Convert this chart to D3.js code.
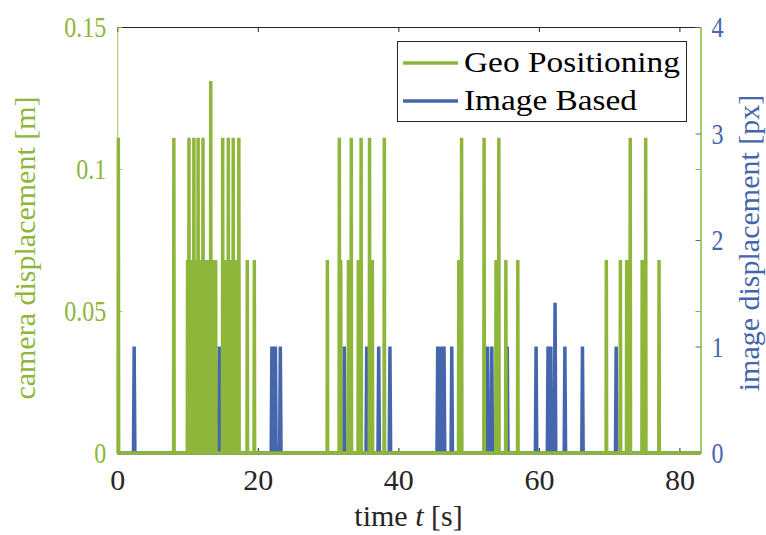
<!DOCTYPE html>
<html>
<head>
<meta charset="utf-8">
<script src="https://cdn.jsdelivr.net/npm/d3@7"></script>
<style>
  body { margin: 0; background: #fff; }
  svg text { font-family: "Liberation Serif", "DejaVu Serif", "Noto Serif", "FreeSerif", "Nimbus Roman", Times, serif !important; }
</style>
</head>
<body>
<svg id="chart"></svg>
<script>

// Geo positioning spikes: time [s] and camera displacement [m]
const geoTimes = [0.15, 8.05,
    10.0, 10.2, 10.35, 10.5, 10.65, 10.9, 11.05, 11.2, 11.35, 11.5, 11.65, 11.8, 11.95,
    12.2, 12.35, 12.5, 12.65, 12.8, 12.95, 13.1, 13.3, 13.5, 13.65,
    14.0, 15.0, 15.5, 15.8, 16.2, 16.5, 16.9, 17.3, 18.5, 19.5,
    29.9, 31.6, 31.8, 32.9, 33.3, 34.3, 34.7, 35.9, 36.3, 38.0,
    48.6, 49.0, 52.2, 53.9, 54.3, 55.3, 57.0,
    69.6, 71.6, 72.5, 73.0, 74.7, 75.2, 77.1];
const geoValues = [0.111, 0.111,
    0.068, 0.111, 0.068, 0.068, 0.068, 0.111, 0.068, 0.068, 0.068, 0.111, 0.068, 0.068, 0.068,
    0.111, 0.068, 0.068, 0.068, 0.068, 0.068, 0.068, 0.131, 0.068, 0.068,
    0.068, 0.111, 0.068, 0.111, 0.068, 0.111, 0.068, 0.111, 0.068, 0.068,
    0.068, 0.111, 0.068, 0.068, 0.111, 0.068, 0.111, 0.111, 0.068, 0.111,
    0.068, 0.111, 0.111, 0.068, 0.111, 0.068, 0.068,
    0.068, 0.068, 0.068, 0.111, 0.068, 0.111, 0.068];

// Image based spikes: time [s] and image displacement [px]
const imgTimes = [2.4, 14.5, 15.2, 22.0, 22.5, 23.2, 32.3, 35.5, 37.2, 38.8,
    45.6, 46.1, 46.5, 47.6, 52.7, 53.3, 55.5, 59.6, 61.3, 61.7, 62.3, 63.7, 66.2, 71.0];
const imgValues = [1, 1, 1, 1, 1, 1, 1, 1, 1, 1,
    1, 1, 1, 1, 1, 1, 1, 1, 1, 1, 1.41, 1, 1, 1];

const xTicks = [0, 20, 40, 60, 80];
const leftTicks = [0, 0.05, 0.1, 0.15];
const leftTickLabels = ["0", "0.05", "0.1", "0.15"];
const rightTicks = [0, 1, 2, 3, 4];
const seriesNames = ["Geo Positioning", "Image Based"];

const green = "#8db63b";
const blue = "#4565ad";
const dark = "#262626";
const serif = "'Liberation Serif', 'DejaVu Serif', 'Noto Serif', serif";

const W = 766, H = 535;
const plotL = 117.3, plotR = 700.5, plotT = 27, plotB = 453;

const svg = d3.select("#chart").attr("width", W).attr("height", H)
    .attr("font-family", serif);

const x = d3.scaleLinear().domain([0, 83]).range([plotL, plotR]);
const yL = d3.scaleLinear().domain([0, 0.15]).range([plotB, plotT]);
const yR = d3.scaleLinear().domain([0, 4]).range([plotB, plotT]);

// turn spike lists into a signal that sits at zero between events
function spikes(times, values, dt) {
    const pts = [[0, 0]];
    times.forEach((t, i) => {
        pts.push([t - dt, 0], [t, values[i]], [t + dt, 0]);
    });
    pts.push([83, 0]);
    return pts;
}

// top and bottom frame with inward x ticks
svg.append("g")
    .attr("transform", "translate(0," + plotT + ")")
    .call(d3.axisTop(x).tickValues(xTicks).tickSizeInner(-5).tickSizeOuter(0).tickFormat(""))
    .call(g => g.selectAll("line,path").attr("stroke", dark));

const xAxis = svg.append("g")
    .attr("transform", "translate(0," + plotB + ")")
    .call(d3.axisBottom(x).tickValues(xTicks).tickSizeInner(-5).tickSizeOuter(0).tickFormat(d3.format("d")));
xAxis.attr("font-family", serif);
xAxis.selectAll("line,path").attr("stroke", dark);
xAxis.selectAll("text")
    .attr("y", 37).attr("dy", null)
    .attr("fill", dark).attr("font-size", 30);

// left axis (green)
const yAxisL = svg.append("g")
    .attr("transform", "translate(" + plotL + ",0)")
    .call(d3.axisLeft(yL).tickValues(leftTicks).tickSizeInner(-5).tickSizeOuter(0)
        .tickFormat((d, i) => leftTickLabels[i]));
yAxisL.attr("font-family", serif);
yAxisL.selectAll("line,path").attr("stroke", green).attr("stroke-opacity", 0.8);
yAxisL.selectAll("text")
    .attr("x", -11 / 0.8).attr("transform", "scale(0.8,1)")
    .attr("fill", green).attr("font-size", 30);

// mirrored green ticks on the right edge
svg.append("g")
    .attr("transform", "translate(" + plotR + ",0)")
    .call(d3.axisRight(yL).tickValues(leftTicks).tickSizeInner(-5).tickSizeOuter(0).tickFormat(""))
    .call(g => g.selectAll("line,path").attr("stroke", green));

// right axis (blue)
const yAxisR = svg.append("g")
    .attr("transform", "translate(" + plotR + ",0)")
    .call(d3.axisRight(yR).tickValues(rightTicks).tickSizeInner(-5).tickSizeOuter(0).tickFormat(d3.format("d")));
yAxisR.attr("font-family", serif);
yAxisR.select("path").attr("stroke", green);
yAxisR.selectAll("line").attr("stroke", blue);
yAxisR.selectAll("text")
    .attr("x", 11 / 0.8).attr("transform", "scale(0.8,1)")
    .attr("fill", blue).attr("font-size", 30);

// data lines
const lineL = d3.line().x(d => x(d[0])).y(d => yL(d[1]));
const lineR = d3.line().x(d => x(d[0])).y(d => yR(d[1]));

svg.append("path")
    .datum(spikes(imgTimes, imgValues, 0.1))
    .attr("fill", "none")
    .attr("stroke", blue)
    .attr("stroke-width", 3.5)
    .attr("stroke-linejoin", "bevel")
    .attr("d", lineR);

svg.append("path")
    .datum(spikes(geoTimes, geoValues, 0.04))
    .attr("fill", "none")
    .attr("stroke", green)
    .attr("stroke-width", 3.5)
    .attr("stroke-linejoin", "bevel")
    .attr("d", lineL);

// axis titles
svg.append("text")
    .attr("transform", "translate(35,248) rotate(-90)")
    .attr("text-anchor", "middle")
    .attr("fill", green).attr("font-size", 30)
    .text("camera displacement [m]");

svg.append("text")
    .attr("transform", "translate(759,243) rotate(-90)")
    .attr("text-anchor", "middle")
    .attr("fill", blue).attr("font-size", 30)
    .text("image displacement [px]");

const xt = svg.append("text")
    .attr("x", 408.5).attr("y", 526)
    .attr("text-anchor", "middle")
    .attr("fill", dark).attr("font-size", 30);
xt.append("tspan").text("time ");
xt.append("tspan").attr("font-style", "italic").text("t");
xt.append("tspan").text(" [s]");

// legend
const legend = svg.append("g");
legend.append("rect")
    .attr("x", 397.5).attr("y", 41.5).attr("width", 289).attr("height", 80)
    .attr("fill", "#fff").attr("stroke", dark).attr("stroke-width", 1);
const legendColors = [green, blue];
const legendWidths = [216, 173];
seriesNames.forEach((name, i) => {
    const cy = 63 + i * 38;
    legend.append("line")
        .attr("x1", 403).attr("x2", 458).attr("y1", cy).attr("y2", cy)
        .attr("stroke", legendColors[i]).attr("stroke-width", 3.5);
    legend.append("text")
        .attr("x", 464).attr("y", cy + 8.5)
        .attr("fill", "#000").attr("font-size", 30)
        .attr("textLength", legendWidths[i]).attr("lengthAdjust", "spacingAndGlyphs")
        .text(name);
});
</script>
</body>
</html>
